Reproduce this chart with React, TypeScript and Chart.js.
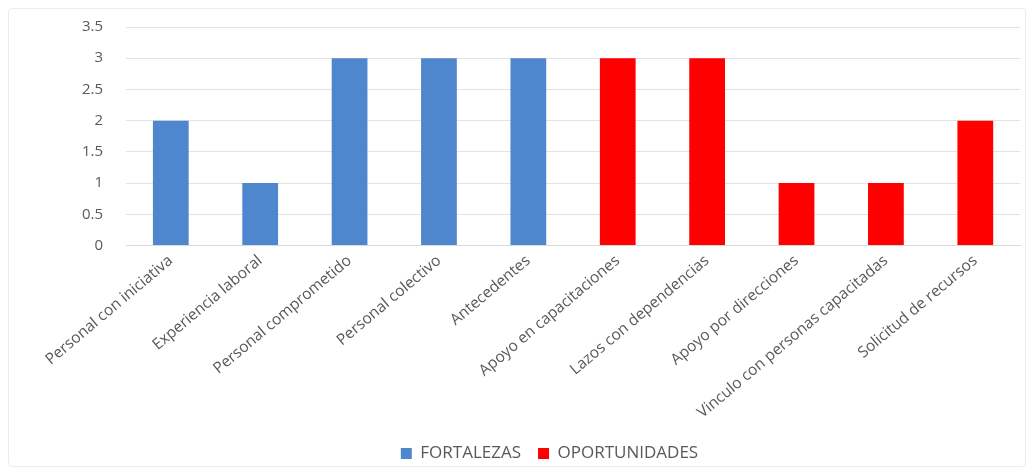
import React, { useEffect, useRef } from "react";
import { Chart, registerables } from "chart.js";

Chart.register(...registerables);

const categories = [
  "Personal con iniciativa",
  "Experiencia laboral",
  "Personal comprometido",
  "Personal colectivo",
  "Antecedentes",
  "Apoyo en capacitaciones",
  "Lazos con dependencias",
  "Apoyo por direcciones",
  "Vinculo con personas capacitadas",
  "Solicitud de recursos",
];

const fortalezas = [2, 1, 3, 3, 3, null, null, null, null, null];
const oportunidades = [null, null, null, null, null, 3, 3, 1, 1, 2];

const yTicks = [0, 0.5, 1, 1.5, 2, 2.5, 3, 3.5];

export default function App() {
  const ref = useRef<HTMLCanvasElement | null>(null);

  useEffect(() => {
    if (!ref.current) return;
    const font = "'Open Sans', 'DejaVu Sans', sans-serif";
    const chart = new Chart(ref.current, {
      type: "bar",
      data: {
        labels: categories,
        datasets: [
          {
            label: "FORTALEZAS",
            data: fortalezas,
            backgroundColor: "#4F87CE",
            borderWidth: 0,
            barPercentage: 0.4,
            categoryPercentage: 1,
          },
          {
            label: "OPORTUNIDADES",
            data: oportunidades,
            backgroundColor: "#FF0000",
            borderWidth: 0,
            barPercentage: 0.4,
            categoryPercentage: 1,
          },
        ],
      },
      options: {
        animation: false,
        responsive: true,
        maintainAspectRatio: false,
        layout: { padding: { left: 70, right: 5, top: 18, bottom: -6 } },
        plugins: {
          legend: {
            position: "bottom",
            labels: {
              boxWidth: 11,
              boxHeight: 11,
              color: "#595959",
              padding: 17,
              font: { family: font, size: 17 },
            },
          },
          tooltip: { enabled: false },
        },
        scales: {
          x: {
            stacked: true,
            grid: { display: false, drawTicks: false },
            border: { display: true, color: "#d9d9d9" },
            ticks: {
              autoSkip: false,
              minRotation: 40,
              maxRotation: 40,
              color: "#595959",
              padding: 6,
              font: { family: font, size: 15.5 },
            },
          },
          y: {
            stacked: true,
            min: 0,
            max: 3.5,
            afterBuildTicks: (axis: any) => {
              axis.ticks = yTicks.map((v) => ({ value: v }));
            },
            grid: {
              color: "#e3e3e3",
              drawTicks: true,
              tickLength: 20,
              tickColor: "rgba(0,0,0,0)",
            },
            border: { display: false },
            ticks: {
              color: "#595959",
              padding: 3,
              font: { family: font, size: 15 },
              callback: (v: any) => String(v),
            },
          },
        },
      },
    });
    return () => chart.destroy();
  }, []);

  return (
    <div
      style={{
        width: 1018,
        height: 459,
        position: "relative",
        border: "1px solid #ececec",
        boxSizing: "border-box",
        borderRadius: 4,
      }}
    >
      <canvas ref={ref} />
    </div>
  );
}
